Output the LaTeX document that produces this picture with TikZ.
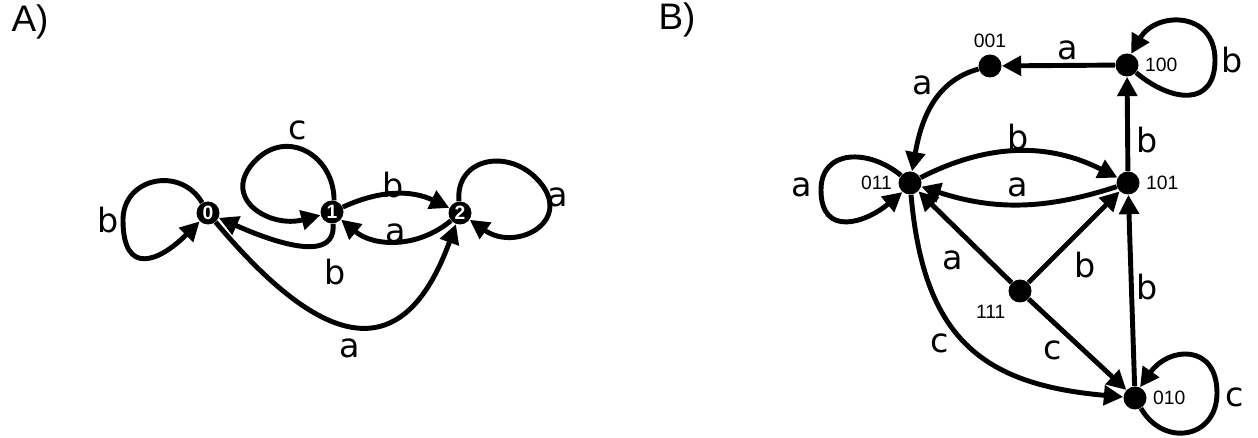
\documentclass[tikz,border=0pt]{standalone}
\usepackage{fontspec}
\setmainfont{DejaVu Sans}
\newfontfamily\numfont{Liberation Sans}
\usetikzlibrary{arrows.meta}

\tikzset{
  state/.style={circle,fill=black,inner sep=0pt,minimum size=0.46cm},
  astate/.style={state,text=white,font=\numfont\bfseries\fontsize{11}{11}\selectfont},
  trans/.style={line width=2.8pt,-{Triangle[length=11pt,width=11pt]}},
  lbl/.style={font=\fontsize{19}{19}\selectfont},
  tag/.style={font=\numfont\fontsize{11}{11}\selectfont},
  panel/.style={font=\numfont\fontsize{21}{21}\selectfont}
}

\begin{document}
\begin{tikzpicture}[x=0.02cm,y=0.02cm]
  \useasboundingbox (0,0) rectangle (1258,-438);

  %panel letters
  \node[panel] (pA) at (30,-22) {A)};
  \node[panel] (pB) at (677,-20) {B)};

  %first diagram
  %states
  \node[astate] (a0) at (208,-213) {0};
  \node[astate] (a1) at (332,-212) {1};
  \node[astate] (a2) at (460,-213) {2};

  %self loops
  \draw[trans] (a0.120) to[out=120,in=90,looseness=1.35] (123,-220)
               to[out=270,in=225,looseness=1.9] (a0.225);
  \draw[trans] (a1.80) to[out=90,in=45,looseness=1.3] (256,-160)
               to[out=225,in=195,looseness=1.6] (a1.195);
  \draw[trans] (a2.95) to[out=95,in=135,looseness=1.35] (536,-178)
               to[out=-45,in=-35,looseness=1.9] (a2.-35);

  %transitions
  \draw[trans] (a1) to[bend left=25] (a2);
  \draw[trans] (a2) to[out=220,in=-40] (a1);
  \draw[trans] (a1) to[out=-85,in=-24] (a0);
  \draw[trans] (a0) to[out=-50,in=-110,looseness=1.7] (a2);

  %labels
  \node[lbl] (l0) at (108,-220) {b};
  \node[lbl] (l1) at (298,-130) {c};
  \node[lbl] (l2) at (393,-185) {b};
  \node[lbl] (l3) at (396,-233) {a};
  \node[lbl] (l4) at (335,-272) {b};
  \node[lbl] (l5) at (350,-348) {a};
  \node[lbl] (l6) at (558,-197) {a};

  %second diagram
  %states
  \node[state,label={[tag]above:001}] (b001) at (990,-66) {};
  \node[state,label={[tag]right:100}] (b100) at (1127,-65) {};
  \node[state,label={[tag]left:011}] (b011) at (910,-183) {};
  \node[state,label={[tag]right:101}] (b101) at (1128,-183) {};
  \node[state,label={[tag]below left:111}] (b111) at (1020,-291) {};
  \node[state,label={[tag]right:010}] (b010) at (1135,-398) {};

  %self loops
  \draw[trans] (b011.140) to[out=140,in=90,looseness=1.3] (821,-190)
               to[out=270,in=220,looseness=1.5] (b011.230);
  \draw[trans] (b100.-40) to[out=-40,in=270,looseness=1.5] (1215,-60)
               to[out=90,in=60,looseness=1.5] (b100.70);
  \draw[trans] (b010.-60) to[out=-60,in=270,looseness=1.5] (1217,-393)
               to[out=90,in=55,looseness=1.65] (b010.65);

  %transitions
  \draw[trans] (b100) -- (b001);
  \draw[trans] (b001) to[out=195,in=80] (b011);
  \draw[trans] (b011) to[bend left=27] (b101);
  \draw[trans] (b101) to[bend left=18] (b011);
  \draw[trans] (b101) -- (b100);
  \draw[trans] (b010) -- (b101);
  \draw[trans] (b111) -- (b011);
  \draw[trans] (b111) -- (b101);
  \draw[trans] (b111) -- (b010);
  \draw[trans] (b011) to[out=-85,in=175,looseness=1.25] (b010);

  %labels
  \node[lbl] (m0) at (1068,-50) {a};
  \node[lbl] (m1) at (923,-85) {a};
  \node[lbl] (m2) at (1018,-137) {b};
  \node[lbl] (m3) at (1018,-187) {a};
  \node[lbl] (m4) at (1147,-140) {b};
  \node[lbl] (m5) at (1147,-287) {b};
  \node[lbl] (m6) at (953,-260) {a};
  \node[lbl] (m7) at (1085,-265) {b};
  \node[lbl] (m8) at (1053,-350) {c};
  \node[lbl] (m9) at (940,-343) {c};
  \node[lbl] (m10) at (802,-187) {a};
  \node[lbl] (m11) at (1232,-60) {b};
  \node[lbl] (m12) at (1235,-397) {c};

\end{tikzpicture}
\end{document}
